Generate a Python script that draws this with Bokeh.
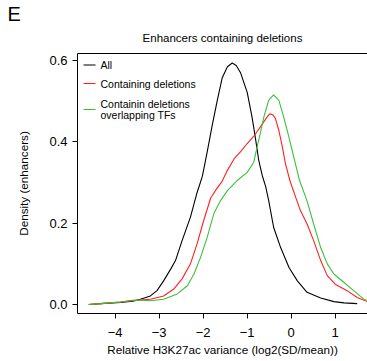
from bokeh.plotting import figure
from bokeh.models import Label, LinearAxis, FixedTicker, Range1d, Title
from bokeh.embed import file_html
from bokeh.resources import INLINE

# ---- data ----
all_x = [-4.6, -4.33, -3.88, -3.6, -3.43, -3.2, -3.05, -2.9, -2.74, -2.63, -2.48, -2.29, -2.14, -2.02,
         -1.91, -1.80, -1.68, -1.57, -1.45, -1.34, -1.25, -1.15, -1.0, -0.89, -0.81, -0.74, -0.66,
         -0.58, -0.51, -0.40, -0.24, -0.05, 0.14, 0.36, 0.67, 0.97, 1.2, 1.5]
all_y = [0.0, 0.002, 0.005, 0.008, 0.013, 0.021, 0.034, 0.058, 0.087, 0.108, 0.157, 0.215, 0.275, 0.315,
         0.375, 0.438, 0.502, 0.557, 0.585, 0.594, 0.588, 0.570, 0.522, 0.461, 0.407, 0.356, 0.318,
         0.290, 0.255, 0.190, 0.140, 0.091, 0.058, 0.030, 0.016, 0.007, 0.004, 0.002]

del_x = [-4.6, -4.33, -3.88, -3.6, -3.43, -3.2, -2.9, -2.67, -2.48, -2.29, -2.14, -1.99, -1.83, -1.68,
         -1.57, -1.45, -1.3, -1.15, -1.0, -0.85, -0.70, -0.62, -0.55, -0.49, -0.42, -0.36, -0.28,
         -0.20, -0.13, -0.03, 0.10, 0.21, 0.36, 0.51, 0.67, 0.82, 1.0, 1.27, 1.5, 1.73, 1.9]
del_y = [0.0, 0.002, 0.006, 0.010, 0.011, 0.013, 0.021, 0.038, 0.063, 0.100, 0.149, 0.206, 0.262, 0.287,
         0.303, 0.330, 0.358, 0.376, 0.396, 0.414, 0.437, 0.450, 0.461, 0.469, 0.467, 0.458, 0.428,
         0.387, 0.346, 0.305, 0.264, 0.231, 0.198, 0.157, 0.108, 0.071, 0.050, 0.034, 0.017, 0.007, 0.003]

tf_x = [-4.6, -4.33, -3.88, -3.5, -3.2, -2.9, -2.59, -2.36, -2.21, -2.06, -1.91, -1.76, -1.61, -1.45,
        -1.23, -1.0, -0.85, -0.77, -0.70, -0.62, -0.51, -0.40, -0.28, -0.17, -0.05, 0.06, 0.19, 0.36,
        0.51, 0.67, 0.82, 0.97, 1.2, 1.42, 1.65, 1.9]
tf_y = [0.0, 0.002, 0.006, 0.011, 0.009, 0.013, 0.026, 0.046, 0.075, 0.116, 0.165, 0.223, 0.255, 0.280,
        0.305, 0.325, 0.350, 0.390, 0.422, 0.462, 0.503, 0.516, 0.502, 0.461, 0.411, 0.362, 0.305, 0.255,
        0.198, 0.140, 0.100, 0.075, 0.054, 0.034, 0.013, 0.004]

x_ticks = [-4, -3, -2, -1, 0, 1]
x_tick_labels = ["\u22124", "\u22123", "\u22122", "\u22121", "0", "1"]
y_ticks = [0.0, 0.2, 0.4, 0.6]
y_tick_labels = ["0.0", "0.2", "0.4", "0.6"]

series_names = ["All", "Containing deletions", "Containin deletions", "overlapping TFs"]
colors = ["#000000", "#ff2020", "#3cbf3c"]

FONT = "Liberation Sans"

W, H = 367, 361
FL, FT, FR, FB = 77, 53, 367, 313  # frame edges in px
X0, X1 = -4.857, 1.734
Y0, Y1 = -0.0222, 0.6175


def dx(px):
    return X0 + (px - FL) * (X1 - X0) / (FR - FL)


def dy(py):
    return Y1 - (py - FT) * (Y1 - Y0) / (FB - FT)


p = figure(width=W, height=H, output_backend="svg", toolbar_location=None,
           x_range=Range1d(X0, X1), y_range=Range1d(Y0, Y1),
           min_border_left=FL, min_border_top=FT, min_border_right=0,
           min_border_bottom=H - FB, x_axis_location=None, y_axis_location=None,
           title_location=None)
p.outline_line_color = None
p.xgrid.visible = False
p.ygrid.visible = False
p.background_fill_color = "white"
p.border_fill_color = "white"

xa = LinearAxis(ticker=FixedTicker(ticks=x_ticks),
                major_label_overrides={t: l for t, l in zip(x_ticks, x_tick_labels)},
                axis_label="Relative H3K27ac variance (log2(SD/mean))")
ya = LinearAxis(ticker=FixedTicker(ticks=y_ticks),
                major_label_overrides={t: l for t, l in zip(y_ticks, y_tick_labels)},
                axis_label="Density (enhancers)")
for ax in (xa, ya):
    ax.major_tick_in = 0
    ax.major_tick_out = 5
    ax.minor_tick_line_color = None
    ax.axis_line_color = "black"
    ax.major_tick_line_color = "black"
    ax.major_label_text_font = FONT
    ax.major_label_text_font_size = "13px"
    ax.major_label_text_color = "black"
    ax.axis_label_text_font = FONT
    ax.axis_label_text_font_size = "11.7px"
    ax.axis_label_text_font_style = "normal"
    ax.axis_label_text_color = "black"
xa.major_label_standoff = 9
xa.axis_label_standoff = 3
ya.major_label_standoff = 5
ya.axis_label_standoff = 16
p.add_layout(xa, "below")
p.add_layout(ya, "left")

# top edge of the plot box
top = LinearAxis(ticker=FixedTicker(ticks=[]), major_tick_in=0, major_tick_out=0,
                 minor_tick_line_color=None, major_tick_line_color=None,
                 axis_line_color="black")
p.add_layout(top, "above")

p.add_layout(Title(text="Enhancers containing deletions", align="center", offset=-2,
                   text_font=FONT, text_font_size="11.5px", text_font_style="normal",
                   text_color="black", standoff=20), "above")
p.add_layout(Title(text="E", align="left", offset=-70, text_font=FONT,
                   text_font_size="20px", text_font_style="normal", text_color="black",
                   standoff=-11), "above")

p.line(all_x, all_y, line_color=colors[0], line_width=1.1)
p.line(del_x, del_y, line_color=colors[1], line_width=1.1)
p.line(tf_x, tf_y, line_color=colors[2], line_width=1.1)

# legend
leg_rows = [64.5, 83, 109]
p.segment(x0=[dx(83)] * 3, x1=[dx(95)] * 3, y0=[dy(r) for r in leg_rows],
          y1=[dy(r) for r in leg_rows], line_color=colors, line_width=1.1)
for txt, yy in zip(series_names, [64.5, 83, 103, 114.5]):
    p.add_layout(Label(x=dx(100), y=dy(yy), text=txt, text_font=FONT, text_font_size="10.5px",
                       text_baseline="middle", text_align="left", text_color="black"))

open("out.html", "w").write(file_html(p, INLINE))
